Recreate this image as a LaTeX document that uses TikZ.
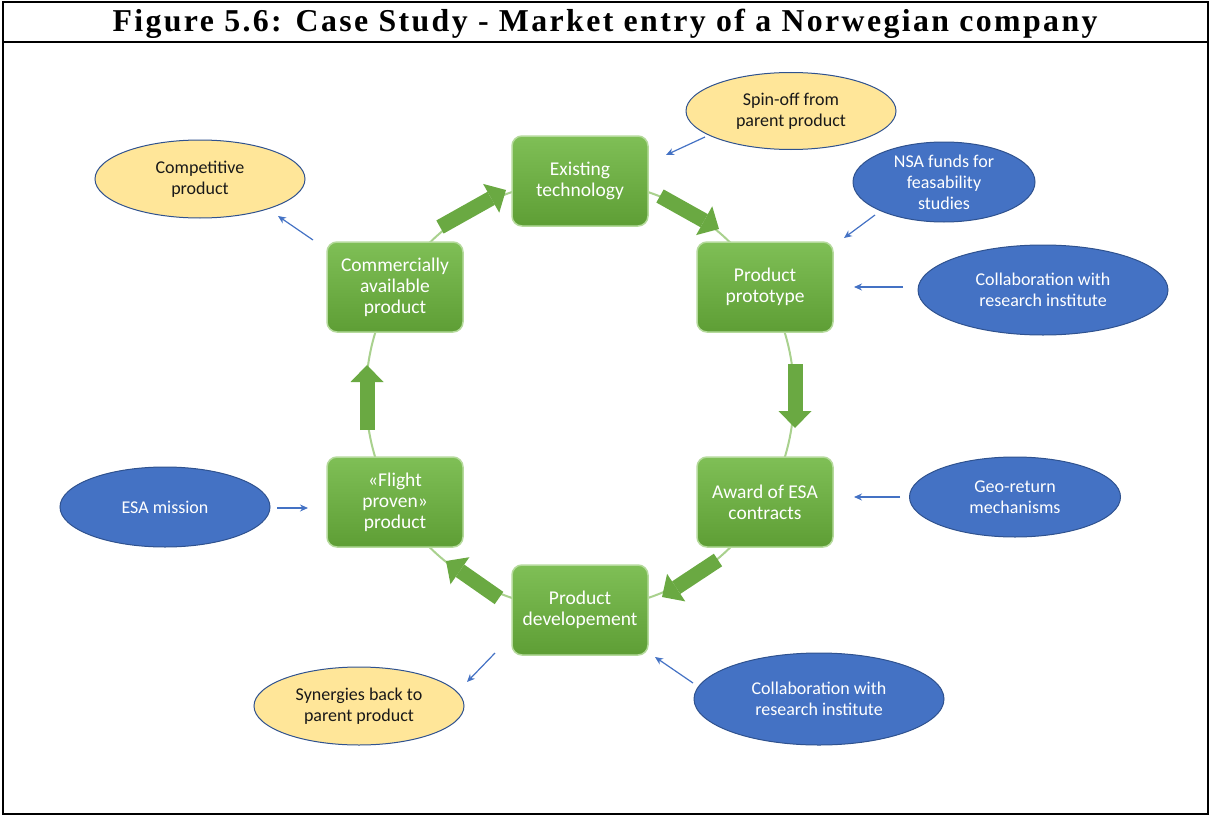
\documentclass[tikz,border=0pt]{standalone}
\usepackage{fontspec}
\setmainfont{Liberation Serif}
\newfontfamily\calib{Carlito}
\usetikzlibrary{shapes.geometric,arrows.meta}
\definecolor{gtop}{HTML}{7FBF56}
\definecolor{gbot}{HTML}{5E9E35}
\definecolor{gedge}{HTML}{B5DA9C}
\definecolor{ring}{HTML}{A9D18E}
\definecolor{barr}{HTML}{6AA942}
\definecolor{bfill}{HTML}{4472C4}
\definecolor{bedge}{HTML}{2F528F}
\definecolor{yfill}{HTML}{FFE699}
\definecolor{thin}{HTML}{4472C4}
\tikzset{
  gbox/.style={draw=gedge, line width=1.5pt, rounded corners=10pt, top color=gtop, bottom color=gbot,
    minimum width=136pt, minimum height=90pt, align=center, text=white,
    font=\calib\fontsize{19.5}{21}\selectfont, inner sep=2pt},
  bell/.style={ellipse, draw=bedge, line width=1pt, fill=bfill, text=white, align=center,
    font=\calib\fontsize{18}{21}\selectfont, inner sep=0pt},
  yell/.style={ellipse, draw=bedge, line width=1pt, fill=yfill, text=black!90, align=center,
    font=\calib\fontsize{18}{21}\selectfont, inner sep=0pt},
  blockarrow/.style={draw=barr, line width=15pt, -{Triangle[width=33pt,length=17pt,line width=0pt]}},
  thinarrow/.style={draw=thin, line width=1.2pt, -{Stealth[length=8pt,width=7pt]}},
}
\begin{document}
\begin{tikzpicture}[x=1pt,y=-1pt]
\useasboundingbox (0,0) rectangle (1210,816);
% frame
\draw[line width=2pt] (3,2) rectangle (1208,814);
\draw[line width=2pt] (3,42) -- (1208,42);
\node[anchor=base, inner sep=0pt] (title) at (605,32)
  {\resizebox{985pt}{!}{\fontsize{31}{34}\selectfont\bfseries\addfontfeature{LetterSpace=7.5}Figure 5.6: Case Study - Market entry of a Norwegian company}};
% ring
\draw[ring, line width=2pt] (580,395) circle[radius=214pt];
% green boxes
\node[gbox] (exist) at (580,181) {Existing\\technology};
\node[gbox] (proto) at (765,287) {Product\\prototype};
\node[gbox] (award) at (765,502) {Award of ESA\\contracts};
\node[gbox] (dev) at (580,610) {Product\\developement};
\node[gbox] (flight) at (395,502) {«Flight\\proven»\\product};
\node[gbox] (comm) at (395,287) {Commercially\\available\\product};
% block arrows
\coordinate (b1a) at (440,227); \coordinate (b1b) at (506,190);
\coordinate (b2a) at (660,196); \coordinate (b2b) at (719,229);
\coordinate (b3a) at (795,364); \coordinate (b3b) at (795,428);
\coordinate (b4a) at (718,560); \coordinate (b4b) at (662,597);
\coordinate (b5a) at (499,598); \coordinate (b5b) at (446,561);
\coordinate (b6a) at (367,430); \coordinate (b6b) at (367,365);
\draw[blockarrow] (b1a) -- (b1b);
\draw[blockarrow] (b2a) -- (b2b);
\draw[blockarrow] (b3a) -- (b3b);
\draw[blockarrow] (b4a) -- (b4b);
\draw[blockarrow] (b5a) -- (b5b);
\draw[blockarrow] (b6a) -- (b6b);
% ellipses
\node[yell, minimum width=210pt, minimum height=77pt] (spin) at (791,111) {Spin-off from\\parent product};
\node[yell, minimum width=210pt, minimum height=78pt] (compet) at (200,179) {Competitive\\product};
\node[bell, minimum width=182pt, minimum height=80pt] (nsa) at (944,182) {NSA funds for\\feasability\\studies};
\node[bell, minimum width=250pt, minimum height=90pt] (collab1) at (1043,290) {Collaboration with\\research institute};
\node[bell, minimum width=211pt, minimum height=80pt] (geo) at (1015,497) {Geo-return\\mechanisms};
\node[bell, minimum width=210pt, minimum height=80pt] (esa) at (165,507) {ESA mission};
\node[bell, minimum width=250pt, minimum height=92pt] (collab2) at (819,699) {Collaboration with\\research institute};
\node[yell, minimum width=210pt, minimum height=78pt] (syn) at (359,706) {Synergies back to\\parent product};
% thin arrows
\coordinate (t1a) at (705,137); \coordinate (t1b) at (666,155);
\coordinate (t2a) at (313,240); \coordinate (t2b) at (278,216);
\coordinate (t3a) at (875,215); \coordinate (t3b) at (844,238);
\coordinate (t4a) at (903,287); \coordinate (t4b) at (854,287);
\coordinate (t5a) at (900,497); \coordinate (t5b) at (854,497);
\coordinate (t6a) at (277,508); \coordinate (t6b) at (308,508);
\coordinate (t7a) at (693,683); \coordinate (t7b) at (655,657);
\coordinate (t8a) at (495,653); \coordinate (t8b) at (467,682);
\draw[thinarrow] (t1a) -- (t1b);
\draw[thinarrow] (t2a) -- (t2b);
\draw[thinarrow] (t3a) -- (t3b);
\draw[thinarrow] (t4a) -- (t4b);
\draw[thinarrow] (t5a) -- (t5b);
\draw[thinarrow] (t6a) -- (t6b);
\draw[thinarrow] (t7a) -- (t7b);
\draw[thinarrow] (t8a) -- (t8b);
\end{tikzpicture}
\end{document}
